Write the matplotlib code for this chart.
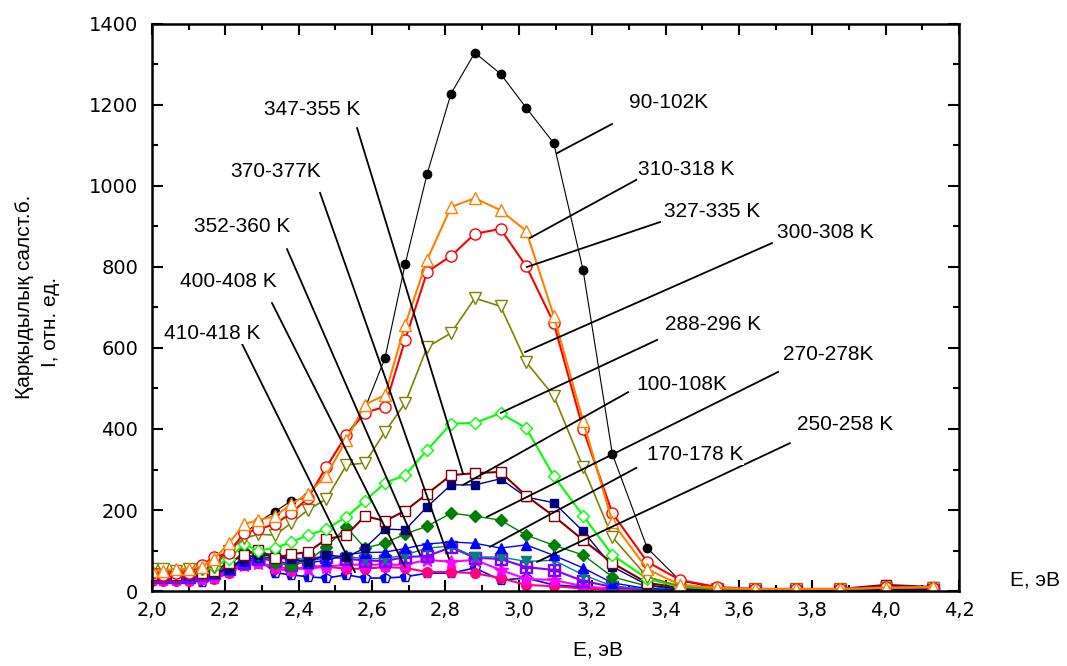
import matplotlib
matplotlib.use('Agg')
import matplotlib.pyplot as plt
from matplotlib.ticker import MultipleLocator, FixedLocator, FixedFormatter

# photon energy grid, eV
E = [2.00, 2.03, 2.065, 2.10, 2.135, 2.17, 2.21, 2.25, 2.29, 2.335, 2.38, 2.425, 2.475, 2.53, 2.58,
     2.635, 2.69, 2.75, 2.815, 2.88, 2.95, 3.02, 3.095, 3.175, 3.255, 3.35, 3.44, 3.54, 3.645, 3.755,
     3.875, 4.00, 4.13]

# intensity, rel. units
i_90_102 = [50,45,45,50,55,70,100,140,171,196,223,230,305,385,450,575,807,1030,1228,1329,1277,1193,1106,793,338,106,25,8,5,5,5,10,8]
i_310_318 = [50,50,55,55,60,80,118,165,175,185,215,240,285,373,460,484,657,818,948,970,940,889,680,420,170,54,15,8,5,5,5,8,10]
i_327_335 = [45,40,45,45,64,84,94,143,153,165,193,229,306,385,440,455,620,788,827,882,894,802,662,400,192,72,27,10,5,5,5,10,8]
i_300_308 = [55,55,50,55,55,60,100,130,140,138,168,200,227,311,316,393,464,602,637,723,703,565,482,306,133,35,12,5,5,5,5,8,8]
i_288_296 = [45,45,45,50,55,60,80,115,100,106,121,138,153,183,222,267,286,348,413,415,439,402,284,186,89,30,10,5,5,5,5,8,8]
i_347_355 = [40,40,40,45,45,50,70,90,101,81,91,96,128,138,185,173,198,240,286,291,294,235,185,126,69,20,8,5,5,5,5,15,10]
i_100_108 = [40,40,40,45,45,45,55,80,90,85,80,72,89,84,106,153,151,208,262,262,277,232,218,148,60,15,5,3,3,3,3,5,5]
i_270_278 = [40,40,40,45,45,50,60,100,90,70,62,74,109,158,106,118,141,160,192,185,175,138,113,89,35,12,5,3,3,3,3,5,5]
i_170_178 = [40,40,40,40,45,45,55,75,85,80,80,70,75,90,95,96,105,116,121,118,106,114,88,57,20,6,3,2,2,2,2,3,3]
i_250_258 = [40,40,40,40,45,50,60,80,95,90,85,75,80,85,80,80,89,106,111,84,84,73,76,40,12,5,3,2,2,2,2,3,3]
i_352_360 = [35,35,35,35,40,45,55,70,80,75,65,80,85,80,75,74,84,86,108,82,79,59,52,25,10,4,2,2,2,2,2,3,3]
i_370_377 = [30,30,30,30,30,35,50,65,70,60,55,55,60,65,65,65,65,77,72,77,52,30,27,12,5,2,2,2,2,2,2,2,2]
i_400_408 = [25,25,25,25,30,30,45,65,70,55,50,62,60,55,55,59,57,47,47,44,32,15,12,6,3,2,2,2,2,2,2,2,2]
i_410_418 = [40,40,40,50,22,37,54,80,80,45,40,35,32,40,32,32,35,44,44,57,27,32,15,10,5,3,2,2,2,2,2,2,2]

# labels with text position and pointer line (data coords)
ann_labels = ['90-102K', '310-318 K', '327-335 K', '300-308 K', '288-296 K', '100-108K', '270-278K',
              '250-258 K', '170-178 K', '347-355 K', '370-377K', '352-360 K', '400-408 K', '410-418 K']
ann_text = [(3.407, 1205), (3.456, 1040), (3.527, 936), (3.835, 886), (3.529, 657), (3.445, 509), (3.843, 585),
            (3.889, 412), (3.480, 336), (2.436, 1188), (2.338, 1035), (2.245, 899), (2.207, 763), (2.163, 635)]
ann_from = [(3.254, 1153), (3.330, 1020), (3.385, 911), (3.690, 859), (3.377, 620), (3.298, 491), (3.707, 541),
            (3.739, 365), (3.320, 304), (2.559, 1143), (2.458, 983), (2.368, 844), (2.327, 711), (2.240, 620)]
ann_to = [(3.104, 1081), (3.031, 872), (3.022, 800), (3.017, 590), (2.951, 440), (2.848, 262), (2.913, 183),
          (3.050, 72), (2.921, 109), (2.848, 289), (2.810, 79), (2.731, 89), (2.690, 59), (2.553, 47)]

fig = plt.figure(figsize=(10.67, 6.66), dpi=100)
ax = fig.add_axes([0.1425, 0.1126, 0.7563, 0.8514])

ms = 7
# black curve at the bottom so the other markers sit over it
ax.plot(E, i_90_102, color='black', lw=0.8, marker='o', ms=ms - 1)
ax.plot(E, i_410_418, color='#0000FF', lw=1.2, marker='p', ms=ms, fillstyle='left', markerfacecoloralt='white')
ax.plot(E, i_400_408, color='#FF0080', lw=1.5, marker='o', ms=ms)
ax.plot(E, i_370_377, color='#FF00FF', lw=1.5, marker='*', ms=ms + 3)
ax.plot(E, i_352_360, color='#8000FF', lw=1.5, marker=r'$\boxplus$', ms=ms + 2)
ax.plot(E, i_250_258, color='#008080', lw=1.0, marker='v', ms=ms)
ax.plot(E, i_170_178, color='#0000FF', lw=1.0, marker='^', ms=ms)
ax.plot(E, i_270_278, color='#008000', lw=1.0, marker='D', ms=ms - 1)
ax.plot(E, i_100_108, color='#000080', lw=1.0, marker='s', ms=ms - 1)
ax.plot(E, i_347_355, color='#800000', lw=1.5, marker='s', ms=ms, mfc='white')
ax.plot(E, i_288_296, color='#00FF00', lw=1.5, marker='D', ms=ms - 1, mfc='white')
ax.plot(E, i_300_308, color='#808000', lw=1.2, marker='v', ms=ms + 1, mfc='white')
ax.plot(E, i_327_335, color='#FF0000', lw=1.5, marker='o', ms=ms + 1, mfc='white')
ax.plot(E, i_310_318, color='#FF8000', lw=1.5, marker='^', ms=ms + 1, mfc='white')

for lab, t, a, b in zip(ann_labels, ann_text, ann_from, ann_to):
    ax.plot([a[0], b[0]], [a[1], b[1]], color='black', lw=1.3, zorder=5)
    ax.text(t[0], t[1], lab, ha='center', va='center', fontsize=15,
            family=['Liberation Sans', 'DejaVu Sans'], zorder=6,
            bbox=dict(facecolor='white', edgecolor='none', pad=0.5))

ax.set_xlim(2.0, 4.2)
ax.set_ylim(0, 1400)
xt = [2.0 + 0.2 * k for k in range(12)]
ax.xaxis.set_major_locator(FixedLocator(xt))
ax.xaxis.set_major_formatter(FixedFormatter([('%.1f' % v).replace('.', ',') for v in xt]))
ax.xaxis.set_minor_locator(MultipleLocator(0.1))
ax.yaxis.set_major_locator(MultipleLocator(200))
ax.yaxis.set_minor_locator(MultipleLocator(100))
ax.tick_params(which='both', direction='in', top=True, right=True, width=1.5, labelsize=14)
ax.tick_params(which='major', length=8)
ax.tick_params(which='minor', length=4)
ax.tick_params(axis='x', pad=7)
ax.tick_params(axis='y', pad=10)
for s in ax.spines.values():
    s.set_linewidth(1.8)

fam = ['Liberation Sans', 'DejaVu Sans']
fig.text(598 / 1067, 1 - 650 / 666, 'E, эВ', ha='center', va='center', fontsize=15, family=fam)
fig.text(1035 / 1067, 1 - 580 / 666, 'E, эВ', ha='center', va='center', fontsize=15, family=fam)
fig.text(25 / 1067, 1 - 297 / 666, 'Қарқыдылық салст.б.', rotation=90, ha='center', va='center', fontsize=15, family=fam)
fig.text(50 / 1067, 1 - 322 / 666, 'I, отн. ед.', rotation=90, ha='center', va='center', fontsize=15, family=fam)

plt.savefig('out.png', dpi=100)
